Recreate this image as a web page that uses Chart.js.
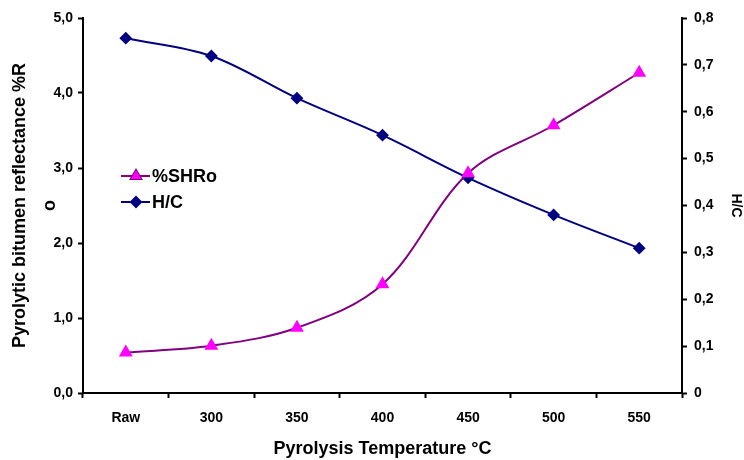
<head>
<script src="https://cdn.jsdelivr.net/npm/chart.js@4/dist/chart.umd.min.js"></script>
</head>
<body style="margin:0;background:#fff">
<div style="width:744px;height:460px">
    <canvas id="myChart" width="744" height="460"></canvas>
</div>
<script>
    // data
    var temps = ['Raw', '300', '350', '400', '450', '500', '550'];
    var shro = [0.54, 0.63, 0.87, 1.45, 2.93, 3.57, 4.27];
    var hc = [0.757, 0.719, 0.629, 0.55, 0.459, 0.38, 0.309];
    var leftTicks = [0, 1, 2, 3, 4, 5];
    var rightTicks = [0, 0.1, 0.2, 0.3, 0.4, 0.5, 0.6, 0.7, 0.8];

    var FONT = 'Arial, "Liberation Sans", sans-serif';
    Chart.defaults.font.family = FONT;
    Chart.defaults.color = '#000';

    // legend sits inside the plot, drawn by hand
    var innerLegend = {
        id: 'innerLegend',
        afterDraw: function(chart) {
            var ctx = chart.ctx;
            var rows = [
                {label: '%SHRo', line: '#800080', fill: '#FF00FF', style: 'triangle', r: 6, y: 176},
                {label: 'H/C', line: '#000080', fill: '#000080', style: 'rectRot', r: 5, y: 202}
            ];
            ctx.save();
            rows.forEach(function(r) {
                ctx.strokeStyle = r.line;
                ctx.lineWidth = 2;
                ctx.beginPath();
                ctx.moveTo(121, r.y);
                ctx.lineTo(150, r.y);
                ctx.stroke();
                ctx.fillStyle = r.fill;
                Chart.helpers.drawPoint(ctx, {pointStyle: r.style, radius: r.r, borderWidth: 1}, 136, r.y);
                ctx.fill();
                ctx.fillStyle = '#000';
                ctx.font = 'bold 18px ' + FONT;
                ctx.textBaseline = 'middle';
                ctx.fillText(r.label, 152, r.y + 1);
            });
            ctx.restore();
        }
    };

    var ctx = document.getElementById('myChart').getContext('2d');
    var myChart = new Chart(ctx, {
        type: 'line',
        data: {
            labels: temps,
            datasets: [
                {
                    label: '%SHRo',
                    data: shro,
                    yAxisID: 'y',
                    borderColor: '#800080',
                    borderWidth: 2,
                    backgroundColor: '#FF00FF',
                    pointBackgroundColor: '#FF00FF',
                    pointBorderColor: '#FF00FF',
                    pointStyle: 'triangle',
                    pointRadius: 6,
                    tension: 0.35
                },
                {
                    label: 'H/C',
                    data: hc,
                    yAxisID: 'y1',
                    borderColor: '#000080',
                    borderWidth: 2,
                    backgroundColor: '#000080',
                    pointBackgroundColor: '#000080',
                    pointBorderColor: '#000080',
                    pointStyle: 'rectRot',
                    pointRadius: 5,
                    tension: 0.35
                }
            ]
        },
        options: {
            responsive: false,
            animation: false,
            layout: {padding: {top: 18, left: 0, right: 0, bottom: 0}},
            plugins: {legend: {display: false}, tooltip: {enabled: false}},
            scales: {
                x: {
                    offset: true,
                    grid: {offset: true, drawOnChartArea: false, color: '#000', tickLength: 5, tickWidth: 2},
                    border: {color: '#000', width: 2},
                    ticks: {font: {size: 14, weight: 'bold'}, padding: 12, maxRotation: 0},
                    title: {display: true, text: 'Pyrolysis Temperature °C', font: {size: 18, weight: 'bold'}, padding: {top: 0, bottom: 0}},
                    afterFit: function(s) { s.height = 67; }
                },
                y: {
                    position: 'left',
                    min: 0, max: 5,
                    grid: {drawOnChartArea: false, color: '#000', tickLength: 5, tickWidth: 2},
                    border: {color: '#000', width: 2},
                    afterBuildTicks: function(s) { s.ticks = leftTicks.map(function(v) { return {value: v}; }); },
                    ticks: {
                        font: {size: 14, weight: 'bold'}, padding: 5,
                        callback: function(v) { return v.toFixed(1).replace('.', ','); }
                    },
                    title: {display: true, text: ['Pyrolytic bitumen reflectance %R', 'o'], font: {size: 18, weight: 'bold', lineHeight: 1.667}, padding: {top: 5, bottom: 0}},
                    afterFit: function(s) { s.width = 83; }
                },
                y1: {
                    position: 'right',
                    min: 0, max: 0.8,
                    grid: {drawOnChartArea: false, color: '#000', tickLength: 5, tickWidth: 2},
                    border: {color: '#000', width: 2},
                    afterBuildTicks: function(s) { s.ticks = rightTicks.map(function(v) { return {value: v}; }); },
                    ticks: {
                        font: {size: 14, weight: 'bold'}, padding: 7,
                        callback: function(v) { return v === 0 ? '0' : v.toFixed(1).replace('.', ','); }
                    },
                    title: {display: true, text: 'H/C', font: {size: 14, weight: 'bold'}, padding: {top: 0, bottom: 0}},
                    afterFit: function(s) { s.width = 62; }
                }
            }
        },
        plugins: [innerLegend]
    });
</script>
</body>
